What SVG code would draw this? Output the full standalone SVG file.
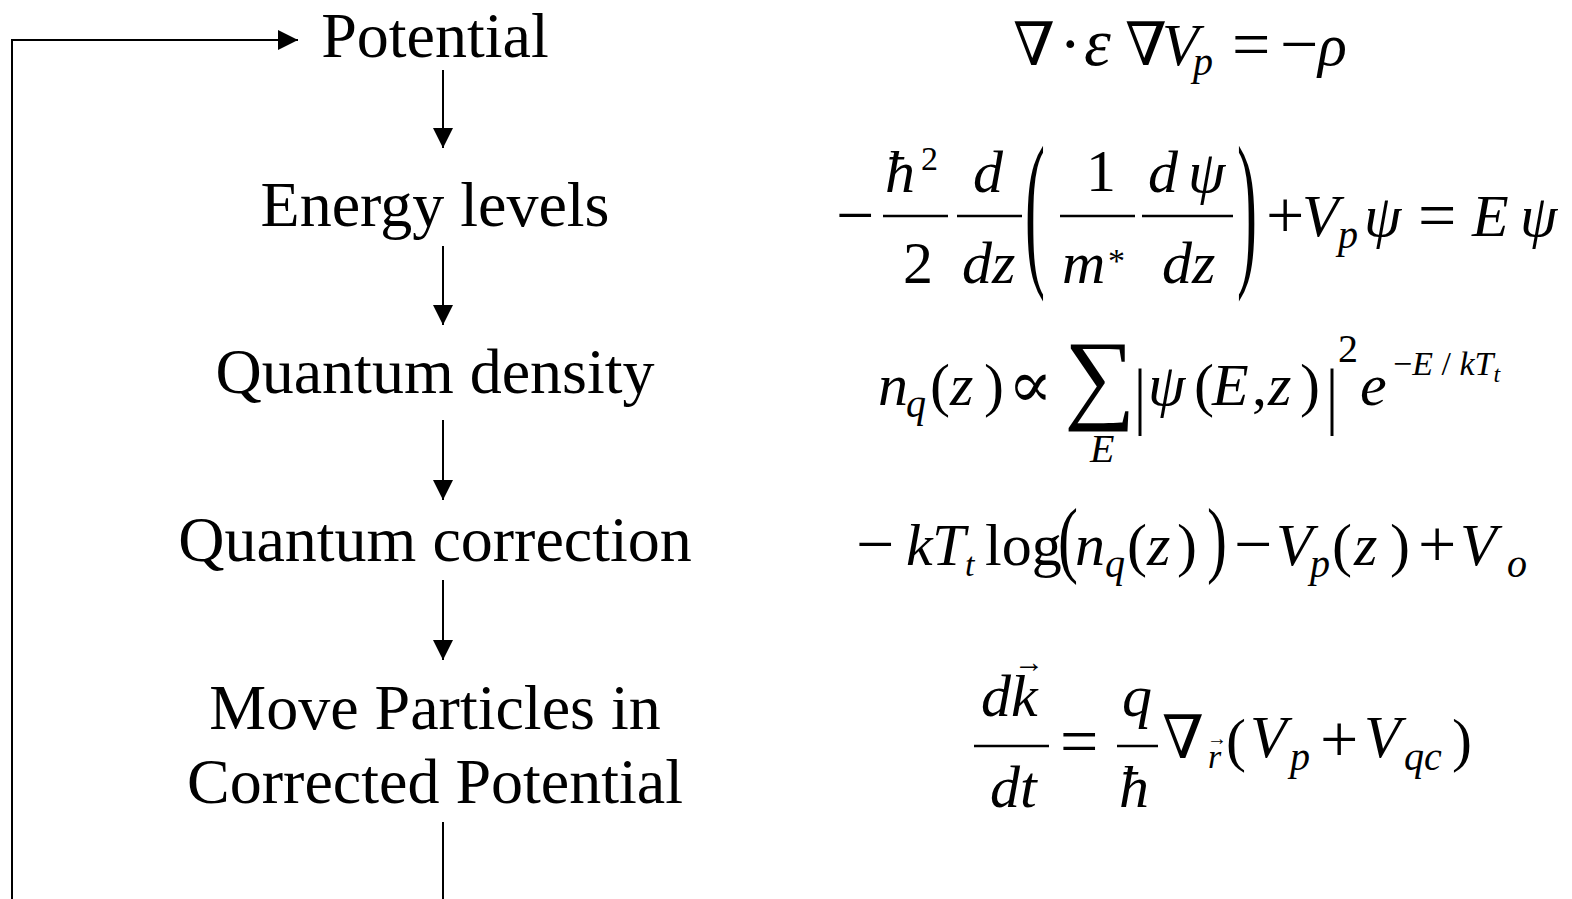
<svg xmlns="http://www.w3.org/2000/svg" width="1572" height="899" viewBox="0 0 1572 899">
<defs>
<style>
.lbl{font-family:"Liberation Serif","Times New Roman",serif;font-size:64px;fill:#000;text-anchor:middle}
.m{font-family:"Liberation Serif","DejaVu Serif",serif;font-size:60px;fill:#000}
.i{font-style:italic}
.s{font-size:40px}
.xs{font-size:34px}
.op{font-size:68px}
.c{stroke:#000;stroke-width:2;fill:none}
.bar{stroke:#000;stroke-width:2.5}
</style>
<marker id="ah" viewBox="0 0 20 20" refX="20" refY="10" markerWidth="20" markerHeight="20" markerUnits="userSpaceOnUse" orient="auto">
<path d="M0,0 L20,10 L0,20 Z" fill="#000"/>
</marker>
</defs>
<rect width="1572" height="899" fill="#fff"/>

<g id="connectors">
<polyline class="c" points="12,899 12,40 298,40" marker-end="url(#ah)"/>
<line class="c" x1="443" y1="70" x2="443" y2="148" marker-end="url(#ah)"/>
<line class="c" x1="443" y1="246" x2="443" y2="325" marker-end="url(#ah)"/>
<line class="c" x1="443" y1="420" x2="443" y2="500" marker-end="url(#ah)"/>
<line class="c" x1="443" y1="580" x2="443" y2="660" marker-end="url(#ah)"/>
<line class="c" x1="443" y1="822" x2="443" y2="899"/>
</g>

<g id="node-potential"><text class="lbl" x="435" y="57">Potential</text></g>
<g id="node-energy"><text class="lbl" x="435" y="226">Energy levels</text></g>
<g id="node-density"><text class="lbl" x="435" y="393">Quantum density</text></g>
<g id="node-correction"><text class="lbl" x="435" y="561">Quantum correction</text></g>
<g id="node-move"><text class="lbl" x="435" y="729">Move Particles in</text><text class="lbl" x="435" y="803">Corrected Potential</text></g>

<g id="eq-poisson" class="m">
<text x="1013" y="65">∇</text>
<text x="1060" y="65">⋅</text>
<text class="i" style="font-size:68px" x="1084" y="65">ε</text>
<text x="1125" y="65">∇</text>
<text class="i" x="1162" y="65">V</text>
<text class="i s" x="1193" y="75">p</text>
<text class="op" x="1232" y="67">=</text>
<text class="op" x="1280" y="67">−</text>
<text class="i" x="1318" y="65">ρ</text>
</g>

<g id="eq-schrodinger" class="m">
<text class="op" x="836" y="238">−</text>
<line class="bar" x1="883" y1="216" x2="948" y2="216"/>
<text class="i" x="885" y="192">ħ</text>
<text class="xs" x="921" y="170">2</text>
<text x="903" y="283">2</text>
<line class="bar" x1="957" y1="216" x2="1022" y2="216"/>
<text class="i" x="973" y="192">d</text>
<text class="i" x="962" y="283">dz</text>
<text transform="translate(1025,265) scale(1,2.85)">(</text>
<line class="bar" x1="1060" y1="216" x2="1135" y2="216"/>
<text x="1086" y="191">1</text>
<text class="i" x="1062" y="283">m</text>
<text class="xs" x="1108" y="272">*</text>
<line class="bar" x1="1142" y1="216" x2="1233" y2="216"/>
<text class="i" x="1148" y="192">d</text>
<text class="i" x="1188" y="192">ψ</text>
<text class="i" x="1162" y="283">dz</text>
<text transform="translate(1237,265) scale(1,2.85)">)</text>
<text class="op" x="1266" y="238">+</text>
<text class="i" x="1302" y="236">V</text>
<text class="i s" x="1338" y="248">p</text>
<text class="i" x="1364" y="236">ψ</text>
<text class="op" x="1418" y="238">=</text>
<text class="i" x="1472" y="236">E</text>
<text class="i" x="1520" y="236">ψ</text>
</g>

<g id="eq-density" class="m">
<text class="i" x="878" y="405">n</text>
<text class="i s" x="906" y="417">q</text>
<text x="930" y="405">(</text>
<text class="i" x="950" y="405">z</text>
<text x="984" y="405">)</text>
<text style="font-size:66px" x="1008" y="407">∝</text>
<text style="font-size:100px" x="1064" y="410">∑</text>
<text class="i s" x="1090" y="462">E</text>
<text transform="translate(1134,420) scale(1,1.25)">|</text>
<text class="i" x="1148" y="405">ψ</text>
<text x="1194" y="405">(</text>
<text class="i" x="1212" y="405">E</text>
<text x="1252" y="405">,</text>
<text class="i" x="1268" y="405">z</text>
<text x="1300" y="405">)</text>
<text transform="translate(1326,420) scale(1,1.25)">|</text>
<text class="s" x="1338" y="362">2</text>
<text class="i" x="1360" y="405">e</text>
<text class="xs" x="1393" y="375">−<tspan class="i">E</tspan> / <tspan class="i">kT</tspan><tspan class="i" style="font-size:24px" dy="7">t</tspan></text>
</g>

<g id="eq-correction" class="m">
<text class="op" x="856" y="567">−</text>
<text class="i" x="906" y="565">k</text>
<text class="i" x="932" y="565">T</text>
<text class="i xs" x="965" y="576">t</text>
<text x="985" y="565">log</text>
<text transform="translate(1058,567) scale(1,1.4)">(</text>
<text class="i" x="1075" y="565">n</text>
<text class="i s" x="1105" y="577">q</text>
<text x="1127" y="565">(</text>
<text class="i" x="1147" y="565">z</text>
<text x="1177" y="565">)</text>
<text transform="translate(1207,567) scale(1,1.4)">)</text>
<text class="op" x="1234" y="567">−</text>
<text class="i" x="1276" y="565">V</text>
<text class="i s" x="1310" y="577">p</text>
<text x="1332" y="565">(</text>
<text class="i" x="1354" y="565">z</text>
<text x="1390" y="565">)</text>
<text class="op" x="1418" y="567">+</text>
<text class="i" x="1460" y="565">V</text>
<text class="i s" x="1507" y="577">o</text>
</g>

<g id="eq-motion" class="m">
<line class="bar" x1="974" y1="746" x2="1049" y2="746"/>
<text class="i" x="981" y="716">d</text>
<text class="i" x="1011" y="716">k</text>
<text style="font-size:30px" x="1014" y="672">→</text>
<text class="i" x="990" y="807">dt</text>
<text class="op" x="1060" y="764">=</text>
<line class="bar" x1="1117" y1="746" x2="1158" y2="746"/>
<text class="i" x="1122" y="716">q</text>
<text class="i" x="1119" y="807">ħ</text>
<text x="1162" y="758">∇</text>
<text class="i xs" x="1208" y="768">r</text>
<text style="font-size:20px" x="1207" y="745">→</text>
<text x="1226" y="760">(</text>
<text class="i" x="1250" y="757">V</text>
<text class="i s" x="1290" y="770">p</text>
<text class="op" x="1320" y="762">+</text>
<text class="i" x="1364" y="757">V</text>
<text class="i s" x="1404" y="770">qc</text>
<text x="1452" y="760">)</text>
</g>
</svg>
